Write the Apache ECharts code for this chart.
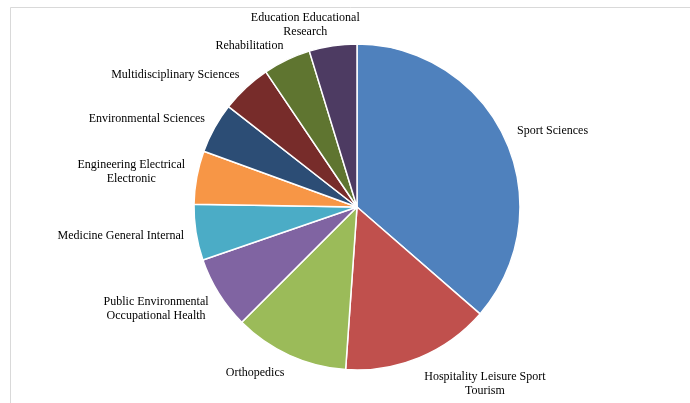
<!DOCTYPE html>
<html>
<head>
<meta charset="utf-8">
<script src="https://cdn.jsdelivr.net/npm/echarts@6/dist/echarts.min.js"></script>
<style>
  html, body { margin: 0; padding: 0; background: #fff; }
  #chart { width: 690px; height: 403px; }
</style>
</head>
<body>
<div id="chart"></div>
<script>
  // categories and values
  var categories = [
    'Sport Sciences',
    'Hospitality Leisure Sport\nTourism',
    'Orthopedics',
    'Public Environmental\nOccupational Health',
    'Medicine General Internal',
    'Engineering Electrical\nElectronic',
    'Environmental Sciences',
    'Multidisciplinary Sciences',
    'Rehabilitation',
    'Education Educational\nResearch'
  ];
  var counts = [131, 53, 41, 26, 20, 19, 18, 18, 17, 17];
  var colors = ['#4F81BD', '#C0504D', '#9BBB59', '#8064A2', '#4BACC6',
                '#F79646', '#2C4D75', '#772C2A', '#5F7530', '#4D3B62'];

  var cx = 357, cy = 207, R = 163;

  var pieData = categories.map(function (name, i) {
    return { name: name, value: counts[i], itemStyle: { color: colors[i] } };
  });

  // mid angle of each slice, clockwise from 12 o'clock (radians)
  var total = counts.reduce(function (a, b) { return a + b; }, 0);
  var midAngles = [];
  var acc = 0;
  counts.forEach(function (v) {
    midAngles.push((acc + v / 2) / total * Math.PI * 2);
    acc += v;
  });

  function clamp(v) { return Math.max(-1, Math.min(1, v)); }

  // excel-like placement: label box pushed just outside the rim
  function placeLabel(params) {
    var a = midAngles[params.dataIndex];
    var s = Math.sin(a), c = Math.cos(a);
    var w = params.labelRect.width, h = params.labelRect.height;
    var up = Math.max(0, c);
    var gap = 12 - 5 * up * up + 2 * Math.max(0, s);
    var px = cx + (R + gap) * s;
    var py = cy - (R + gap) * c;
    return {
      x: px + w / 2 * clamp(3.3 * s),
      y: py + h / 2 * clamp(-1.2 * c),
      align: 'center',
      verticalAlign: 'middle'
    };
  }

  var chart = echarts.init(document.getElementById('chart'));

  var option = {
    backgroundColor: '#fff',
    animation: false,
    graphic: [{
      type: 'rect',
      shape: { x: 10.5, y: 7.5, width: 700, height: 420 },
      style: { fill: 'none', stroke: '#d9d9d9', lineWidth: 1 },
      silent: true
    }],
    series: [{
      type: 'pie',
      center: [cx, cy],
      radius: R,
      startAngle: 90,
      clockwise: true,
      data: pieData,
      itemStyle: { borderColor: '#fff', borderWidth: 1.5 },
      label: {
        show: true,
        position: 'outside',
        fontFamily: '"Liberation Serif", "Times New Roman", serif',
        fontSize: 12,
        color: '#000',
        lineHeight: 14
      },
      labelLine: { show: false, length: 10, length2: 0 },
      labelLayout: placeLabel,
      emphasis: { disabled: true }
    }]
  };

  chart.setOption(option);
</script>
</body>
</html>
